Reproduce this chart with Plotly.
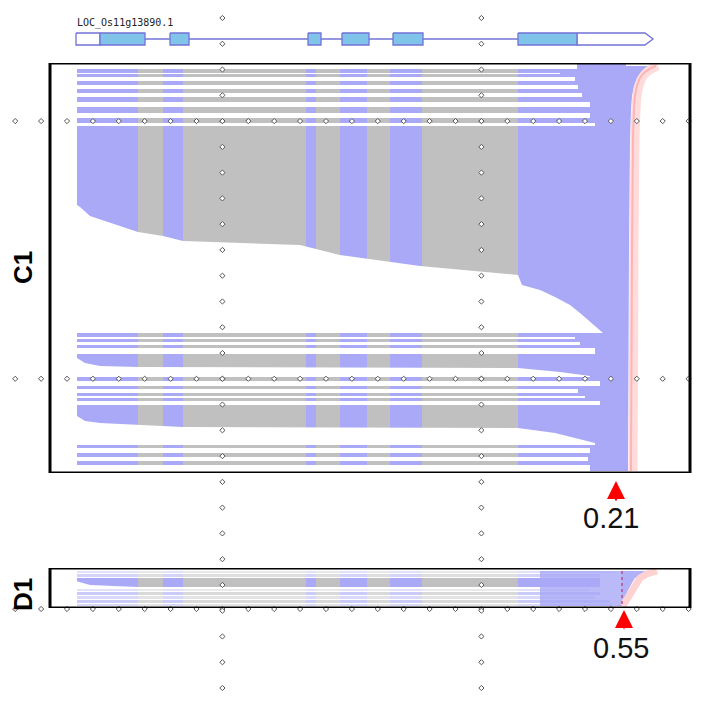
import numpy as np
import plotly.graph_objects as go

# ---- colours ----
BLUE = "#a9a9f7"
GRAY = "#c0c0c0"
EXON_FILL = "#80c4ea"
GENE_LINE = "#7272d6"

# ---- gene model (positions along the gene track) ----
utr5 = [76, 100]
utr3 = [577, 645]
utr3_tip = 653
exon_starts = [100, 170, 308, 342, 393, 518]
exon_ends = [145, 189, 321, 369, 423, 577]
gene_name = "LOC_Os11g13890.1"

# ---- read coverage columns (exon / intron blocks) ----
col_edges = [77, 138, 163, 183, 306, 316, 340, 367, 390, 422, 518, 626]
col_is_exon = [1, 0, 1, 0, 1, 0, 1, 0, 1, 0, 1]

# ---- C1: read ranks (0 = top of panel) ----
c1_first, c1_last = 0, 408
c1_gap_y0 = [0, 10, 14, 22, 30, 39, 50, 60, 274, 279, 285, 318, 326, 333, 338, 385, 394, 402]
c1_gap_y1 = [6, 11, 18, 26, 34, 44, 55, 63, 276, 282, 291, 323, 330, 335, 342, 390, 398, 408]
c1_gap_end = [577, 560, 575, 578, 582, 590, 590, 595, 575, 580, 595, 600, 578, 585, 600, 590, 588, 590]

# white area under the long block (reads sorted by start)
hole1_x = [77, 80, 90, 138, 163, 183, 300, 340, 420, 518, 522, 540, 555, 570, 580, 590, 600, 603, 77]
hole1_y = [142, 144, 153, 169, 173, 178, 182, 192, 203, 212, 222, 227, 234, 242, 250, 259, 267, 270, 270]
hole2_x = [77, 85, 100, 138, 518, 560, 590, 590, 77]
hole2_y = [295, 300, 303, 304, 305, 309, 313, 314, 314]
hole3_x = [77, 85, 100, 138, 183, 518, 555, 595, 595, 77]
hole3_y = [353, 358, 360, 362, 364, 365, 370, 380, 382, 382]

# 3' end profile of C1 (rank, position)
c1_end_rank = [3, 5, 9, 15, 23, 33, 47, 77, 187, 408]
c1_end_pos = [653, 648, 642, 637, 634, 632, 631, 630, 629, 628]

# ---- D1 ----
d1_band_y0 = [3, 6, 10, 21, 24, 28, 32, 36]
d1_band_y1 = [5, 9, 19, 23, 27, 31, 35, 38]
d1_band_alpha = [0.35, 0.5, 1.0, 0.35, 0.6, 0.45, 0.6, 0.45]
d1_band_end = [615, 600, 600, 590, 600, 595, 610, 612]
d1_end_rank = [3, 6, 10, 15, 22, 30, 38]
d1_end_pos = [652, 642, 635, 632, 628, 624, 618]
d1_mark = 622

labels = ["C1", "D1"]
cut_values = ["0.21", "0.55"]

W, H = 707, 703
OFF = 8  # page margin of the html body


def rgba(hexc, a):
    h = hexc.lstrip("#")
    return "rgba(%d,%d,%d,%s)" % (int(h[0:2], 16), int(h[2:4], 16), int(h[4:6], 16), a)


def py(p):
    return 1 - (p - OFF) / H


def px(p):
    return (p - OFF) / W


fig = go.Figure()

# ---------- C1 ----------
cx, cw, cc = [], [], []
for i, e in enumerate(col_is_exon):
    x0, x1 = col_edges[i], col_edges[i + 1]
    cx.append((x0 + x1) / 2)
    cw.append(x1 - x0)
    cc.append(BLUE if e else GRAY)
fig.add_trace(go.Bar(x=cx, y=[c1_last - c1_first] * len(cx), base=c1_first, width=cw,
                     marker=dict(color=cc, line=dict(width=0)), orientation="v",
                     xaxis="x", yaxis="y2", hoverinfo="skip"))
gy = [(a + b) / 2 for a, b in zip(c1_gap_y0, c1_gap_y1)]
gw = [b - a for a, b in zip(c1_gap_y0, c1_gap_y1)]
fig.add_trace(go.Bar(y=gy, x=[e - 52 for e in c1_gap_end], base=52, width=gw, orientation="h",
                     marker=dict(color="white", line=dict(width=0)),
                     xaxis="x", yaxis="y2", hoverinfo="skip"))
for hx, hy in [(hole1_x, hole1_y), (hole2_x, hole2_y), (hole3_x, hole3_y)]:
    fig.add_trace(go.Scatter(x=hx, y=hy, fill="toself", fillcolor="white", mode="lines",
                             line=dict(width=0, color="white"), xaxis="x", yaxis="y2",
                             hoverinfo="skip"))
# blue up to the 3' end, then pink border
bx = [col_edges[-1]] + c1_end_pos + [col_edges[-1]]
by = [c1_end_rank[0]] + c1_end_rank + [c1_end_rank[-1]]
fig.add_trace(go.Scatter(x=bx, y=by, fill="toself", fillcolor=BLUE, mode="lines",
                         line=dict(width=0, color=BLUE), xaxis="x", yaxis="y2", hoverinfo="skip"))
fig.add_trace(go.Scatter(x=[p + 5 for p in c1_end_pos], y=c1_end_rank, mode="lines",
                         line=dict(width=9, color="#ffdcdc", shape="spline"),
                         xaxis="x", yaxis="y2", hoverinfo="skip"))
fig.add_trace(go.Scatter(x=[p + 3 for p in c1_end_pos], y=c1_end_rank, mode="lines",
                         line=dict(width=2, color="#ffb4b4", shape="spline"),
                         xaxis="x", yaxis="y2", hoverinfo="skip"))

# ---------- D1 ----------
dy, dw, dx, dl, dc = [], [], [], [], []
dy.append(20.5); dw.append(35); dx.append(540); dl.append(d1_mark - 540); dc.append(rgba(BLUE, 0.8))
for y0, y1, a, xe in zip(d1_band_y0, d1_band_y1, d1_band_alpha, d1_band_end):
    for i, e in enumerate(col_is_exon):
        x0, x1 = col_edges[i], min(col_edges[i + 1], xe)
        if x1 <= x0:
            continue
        dy.append((y0 + y1) / 2); dw.append(y1 - y0); dx.append(x0); dl.append(x1 - x0)
        dc.append(rgba(BLUE if e else GRAY, a))
fig.add_trace(go.Bar(y=dy, x=dl, base=dx, width=dw, orientation="h",
                     marker=dict(color=dc, line=dict(width=0)),
                     xaxis="x", yaxis="y3", hoverinfo="skip"))
fig.add_trace(go.Scatter(x=[76, 90, 138, 76], y=[13, 17, 19, 19], fill="toself", fillcolor="white",
                         mode="lines", line=dict(width=0, color="white"), xaxis="x", yaxis="y3",
                         hoverinfo="skip"))
fig.add_trace(go.Scatter(x=[d1_mark] + d1_end_pos + [d1_mark],
                         y=[d1_end_rank[0]] + d1_end_rank + [d1_end_rank[-1]],
                         fill="toself", fillcolor=rgba(BLUE, 0.9), mode="lines",
                         line=dict(width=0, color=BLUE), xaxis="x", yaxis="y3", hoverinfo="skip"))
fig.add_trace(go.Scatter(x=[p + 5 for p in d1_end_pos], y=d1_end_rank, mode="lines",
                         line=dict(width=7, color="#ffd2d2"), xaxis="x", yaxis="y3",
                         hoverinfo="skip"))
fig.add_trace(go.Scatter(x=[d1_mark, d1_mark], y=[d1_end_rank[0], d1_end_rank[-1]], mode="lines",
                         line=dict(width=1.5, color="#b0508a", dash="dot"),
                         xaxis="x", yaxis="y3", hoverinfo="skip"))

# ---------- gene model ----------
fig.add_trace(go.Scatter(x=[utr5[0], utr3[1]], y=[39, 39], mode="lines",
                         line=dict(width=1.5, color=GENE_LINE), xaxis="x", yaxis="y",
                         hoverinfo="skip"))
ux = [utr5[0], utr5[1], utr5[1], utr5[0], utr5[0], None,
      utr3[0], utr3[1], utr3_tip, utr3[1], utr3[0], utr3[0]]
uy = [33, 33, 45, 45, 33, None, 33, 33, 39, 45, 45, 33]
fig.add_trace(go.Scatter(x=ux, y=uy, fill="toself", fillcolor="white", mode="lines",
                         line=dict(width=1.3, color=GENE_LINE), xaxis="x", yaxis="y",
                         hoverinfo="skip"))
ex, ey = [], []
for s, e in zip(exon_starts, exon_ends):
    ex += [s, e, e, s, s, None]
    ey += [33, 33, 45, 45, 33, None]
fig.add_trace(go.Scatter(x=ex, y=ey, fill="toself", fillcolor=EXON_FILL, mode="lines",
                         line=dict(width=1.3, color=GENE_LINE), xaxis="x", yaxis="y",
                         hoverinfo="skip"))

# ---------- dotted grid marks ----------
kx = 67 + 25.9 * np.arange(-2, 25)
jy = 18 + 25.77 * np.arange(0, 27)
dotx, doty = [], []
for yy in [jy[4], jy[14], 609]:
    dotx += list(kx); doty += [yy] * len(kx)
for xx in [kx[8], kx[18]]:
    dotx += [xx] * len(jy); doty += list(jy)
fig.add_trace(go.Scatter(x=dotx, y=doty, mode="markers",
                         marker=dict(symbol="diamond", size=4, color="white",
                                     line=dict(width=1, color="#555")),
                         xaxis="x", yaxis="y4", hoverinfo="skip", cliponaxis=False))

fig.update_layout(
    width=W, height=H, margin=dict(l=0, r=0, t=0, b=0),
    paper_bgcolor="white", plot_bgcolor="rgba(0,0,0,0)",
    showlegend=False, barmode="overlay",
    xaxis=dict(range=[OFF, W + OFF], domain=[0, 1], visible=False, fixedrange=True),
    yaxis=dict(range=[60, OFF], domain=[py(60), 1], visible=False, anchor="x"),
    yaxis2=dict(range=[410, 0], domain=[py(473), py(63)], visible=False, anchor="x"),
    yaxis3=dict(range=[40, 0], domain=[py(608), py(568)], visible=False, anchor="x"),
    yaxis4=dict(range=[H + OFF, OFF], domain=[0, 1], visible=False, anchor="x"),
)

# panel frames
fig.add_shape(type="rect", xref="x", yref="y2", x0=50, x1=690, y0=0, y1=410,
              line=dict(color="black", width=3), layer="above")
fig.add_shape(type="rect", xref="x", yref="y3", x0=50, x1=690, y0=0, y1=40,
              line=dict(color="black", width=3), layer="above")

fig.add_annotation(x=75, y=23, xref="x", yref="y", text=gene_name, showarrow=False,
                   xanchor="left", yanchor="middle",
                   font=dict(family="DejaVu Sans Mono", size=10, color="#222"))
for lab, yc in zip(labels, [268, 595]):
    fig.add_annotation(x=px(23), y=py(yc), xref="paper", yref="paper", text="<b>%s</b>" % lab,
                       showarrow=False, textangle=-90, xanchor="center", yanchor="middle",
                       font=dict(family="Arial, Liberation Sans", size=26, color="black"))
for val, ax_, tip, tail, tx, ty in zip(cut_values, [616, 624], [481, 610], [502, 630],
                                       [611, 621], [518, 648]):
    fig.add_annotation(x=ax_, y=tip, xref="x", yref="y4", ax=ax_, ay=tail, axref="x", ayref="y4",
                       text="", showarrow=True, arrowhead=2, arrowsize=1.8, arrowwidth=2,
                       arrowcolor="#ff0000", standoff=0, startstandoff=0)
    fig.add_annotation(x=px(tx), y=py(ty), xref="paper", yref="paper", text=val, showarrow=False,
                       xanchor="center", yanchor="middle",
                       font=dict(family="Arial, Liberation Sans", size=29, color="#111"))

fig.write_html("out.html")
